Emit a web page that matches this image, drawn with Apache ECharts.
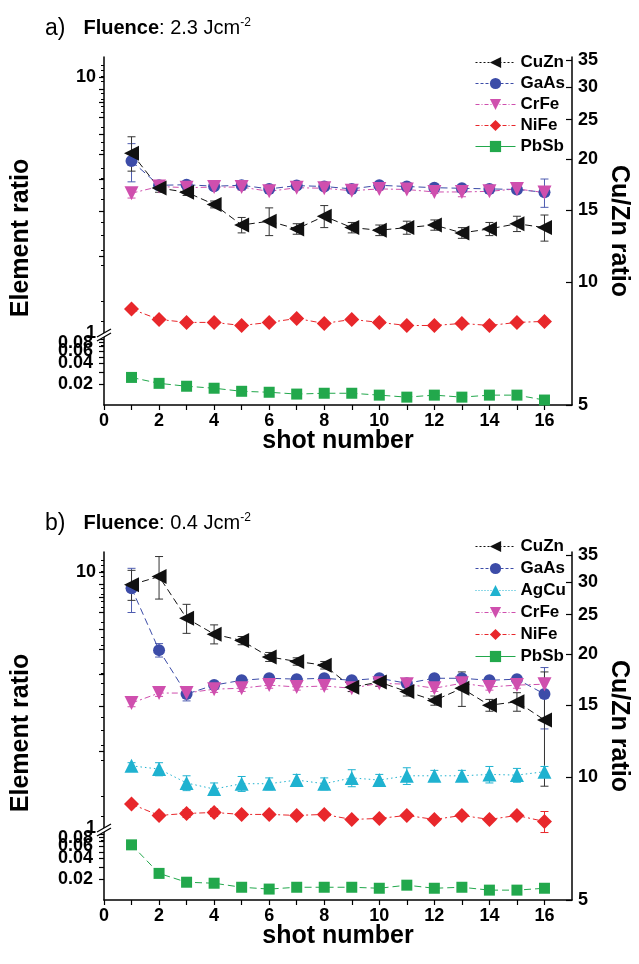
<!DOCTYPE html>
<html>
<head>
<meta charset="utf-8">
<title>Element ratio vs shot number</title>
<script src="https://cdn.jsdelivr.net/npm/echarts@6/dist/echarts.min.js"></script>
<style>
    html, body { margin: 0; padding: 0; background: #fff; }
    #chart { width: 639px; height: 964px; }
</style>
</head>
<body>
<div id="chart"></div>
<script>
// shot number (x)
const shots = [1, 2, 3, 4, 5, 6, 7, 8, 9, 10, 11, 12, 13, 14, 15, 16];

// a) Fluence 2.3 Jcm-2
const aCuZn = [20.7, 17.0, 16.6, 15.5, 13.8, 14.1, 13.5, 14.5, 13.6, 13.4, 13.6, 13.8, 13.2, 13.5, 13.9, 13.6];
const aCuZnErr = [2.0, 0.4, 0.3, 0.3, 0.6, 1.1, 0.4, 0.9, 0.4, 0.4, 0.5, 0.4, 0.4, 0.5, 0.6, 1.0];
const aGaAs = [4.7, 3.78, 3.8, 3.75, 3.78, 3.66, 3.77, 3.74, 3.66, 3.78, 3.74, 3.7, 3.68, 3.66, 3.64, 3.55];
const aGaAsErr = [0.8, 0.15, 0.06, 0.05, 0.05, 0.05, 0.05, 0.05, 0.05, 0.05, 0.05, 0.05, 0.05, 0.05, 0.08, 0.45];
const aCrFe = [3.52, 3.74, 3.7, 3.72, 3.72, 3.58, 3.7, 3.68, 3.6, 3.66, 3.64, 3.56, 3.56, 3.58, 3.66, 3.54];
const aCrFeErr = [0.15, 0.1, 0.05, 0.05, 0.1, 0.05, 0.05, 0.05, 0.05, 0.05, 0.05, 0.05, 0.15, 0.05, 0.1, 0.1];
const aNiFe = [1.24, 1.13, 1.10, 1.10, 1.07, 1.10, 1.14, 1.09, 1.13, 1.10, 1.07, 1.07, 1.09, 1.07, 1.10, 1.11];
const aPbSb = [0.0251, 0.0206, 0.0187, 0.0175, 0.0158, 0.0153, 0.0144, 0.0148, 0.0148, 0.0139, 0.0130, 0.0139, 0.0130, 0.0139, 0.0139, 0.0118];

// b) Fluence 0.4 Jcm-2
const bCuZn = [29.6, 31.0, 24.5, 22.4, 21.6, 19.7, 19.2, 18.8, 16.6, 17.1, 16.2, 15.4, 16.5, 15.0, 15.3, 13.8];
const bCuZnErr = [2.5, 3.7, 2.0, 1.2, 0.5, 0.5, 0.4, 0.4, 0.4, 0.4, 0.4, 0.4, 1.6, 0.5, 0.8, 4.3];
const bGaAs = [8.66, 4.96, 3.34, 3.62, 3.78, 3.85, 3.82, 3.85, 3.78, 3.85, 3.68, 3.85, 3.85, 3.78, 3.82, 3.34];
const bGaAsErr = [1.7, 0.3, 0.2, 0.1, 0.1, 0.1, 0.1, 0.1, 0.1, 0.1, 0.1, 0.1, 0.1, 0.1, 0.1, 0.9];
const bAgCu = [1.75, 1.70, 1.50, 1.42, 1.49, 1.49, 1.54, 1.49, 1.57, 1.54, 1.60, 1.60, 1.60, 1.62, 1.61, 1.66];
const bAgCuErr = [0.05, 0.1, 0.1, 0.08, 0.1, 0.08, 0.08, 0.08, 0.12, 0.08, 0.12, 0.08, 0.08, 0.12, 0.1, 0.08];
const bCrFe = [3.08, 3.37, 3.37, 3.49, 3.52, 3.62, 3.56, 3.59, 3.52, 3.68, 3.65, 3.52, 3.68, 3.56, 3.62, 3.65];
const bCrFeErr = [0.1, 0.1, 0.1, 0.1, 0.1, 0.1, 0.1, 0.1, 0.1, 0.1, 0.1, 0.1, 0.1, 0.1, 0.1, 0.2];
const bNiFe = [1.24, 1.12, 1.14, 1.15, 1.13, 1.13, 1.12, 1.13, 1.08, 1.09, 1.12, 1.08, 1.12, 1.08, 1.12, 1.06];
const bNiFeErr = [0, 0, 0.04, 0.04, 0, 0, 0, 0, 0, 0, 0, 0, 0, 0, 0, 0.1];
const bPbSb = [0.063, 0.0243, 0.0181, 0.0175, 0.0153, 0.0144, 0.0153, 0.0153, 0.0153, 0.0148, 0.0164, 0.0148, 0.0153, 0.0139, 0.0139, 0.0148];

// axis ticks / labels
const upperTicks = [2, 3, 4, 5, 6, 7, 8, 9, 10];
const upperLabels = [1, 10];
const lowerTicks = [0.02, 0.03, 0.04, 0.05, 0.06, 0.07, 0.08, 0.09];
// the 0.06 and 0.08 labels overlap in the original, so each gets its own axis (ECharts drops overlapping labels of one axis)
const lowerLabelGroups = [[0.02, 0.04], [0.06], [0.08]];
const cuznLabels = [5, 10, 15, 20, 25, 30, 35];
const cuznMinorTicks = [6, 7, 8, 9, 11, 12, 13, 14, 16, 17, 18, 19, 21, 22, 23, 24, 26, 27, 28, 29, 31, 32, 33, 34];
const shotLabels = [0, 2, 4, 6, 8, 10, 12, 14, 16];
const shotTicks = [0, 1, 2, 3, 4, 5, 6, 7, 8, 9, 10, 11, 12, 13, 14, 15, 16];

const FONT = '"Liberation Sans", Arial, sans-serif';
const log = v => Math.log10(v);
const pow = v => Math.pow(10, v);

// series look
const STYLE = {
    CuZn: { color: '#111111', err: '#333333', symbol: 'triangle', rotate: 90, size: 15, dash: [7, 4] },
    GaAs: { color: '#3c4ca8', err: '#4e5cb0', symbol: 'circle', rotate: 0, size: 12, dash: [7, 4] },
    AgCu: { color: '#1fb2d0', err: '#1fb2d0', symbol: 'triangle', rotate: 0, size: 14, dash: [1.5, 3] },
    CrFe: { color: '#cf4fae', err: '#cf4fae', symbol: 'triangle', rotate: 180, size: 14, dash: [6, 3, 2, 3] },
    NiFe: { color: '#e8272b', err: '#e8272b', symbol: 'diamond', rotate: 0, size: 15, dash: [6, 3, 2, 3] },
    PbSb: { color: '#22a84c', err: '#22a84c', symbol: 'rect', rotate: 0, size: 11, dash: [7, 4] }
};

const legendLine = {
    CuZn: [2, 2], GaAs: [3, 2], AgCu: [1, 2], CrFe: [4, 2, 1, 2], NiFe: [4, 2, 1, 2], PbSb: 'solid'
};

const panels = [
    {
        top: 57, label: 'a)', fluence: '2.3',
        legendTop: 49, legendGap: 4,
        names: ['CuZn', 'GaAs', 'CrFe', 'NiFe', 'PbSb'],
        upper: { GaAs: [aGaAs, aGaAsErr], CrFe: [aCrFe, aCrFeErr], NiFe: [aNiFe, null] },
        lower: { PbSb: [aPbSb, null] },
        right: { CuZn: [aCuZn, aCuZnErr] }
    },
    {
        top: 552, label: 'b)', fluence: '0.4',
        legendTop: 533, legendGap: 5,
        names: ['CuZn', 'GaAs', 'AgCu', 'CrFe', 'NiFe', 'PbSb'],
        upper: { GaAs: [bGaAs, bGaAsErr], AgCu: [bAgCu, bAgCuErr], CrFe: [bCrFe, bCrFeErr], NiFe: [bNiFe, bNiFeErr] },
        lower: { PbSb: [bPbSb, null] },
        right: { CuZn: [bCuZn, bCuZnErr] }
    }
];

const grid = [], xAxis = [], yAxis = [], series = [], legend = [], title = [];
const axisLineStyle = { show: true, onZero: false, lineStyle: { color: '#000', width: 1.5 } };
const tickText = { color: '#000', fontFamily: FONT, fontWeight: 'bold', fontSize: 18, hideOverlap: false };

function lineSeries(name, vals, xi, yi) {
    const s = STYLE[name];
    return {
        type: 'line', name: name, xAxisIndex: xi, yAxisIndex: yi, z: 4,
        data: shots.map((x, k) => [x, log(vals[k])]),
        symbol: s.symbol, symbolSize: s.size, symbolRotate: s.rotate,
        itemStyle: { color: s.color },
        lineStyle: { color: s.color, width: 1, type: s.dash },
        clip: false, animation: false, silent: true
    };
}

function errorBars(name, vals, errs, xi, yi) {
    const color = STYLE[name].err;
    const data = [];
    shots.forEach((x, k) => {
        if (errs[k] > 0) data.push([x, log(vals[k] - errs[k]), log(vals[k] + errs[k])]);
    });
    return {
        type: 'custom', name: name + ' error', xAxisIndex: xi, yAxisIndex: yi, z: 3,
        silent: true, animation: false, data: data,
        renderItem: function (params, api) {
            const lo = api.coord([api.value(0), api.value(1)]);
            const hi = api.coord([api.value(0), api.value(2)]);
            const st = { stroke: color, lineWidth: 1 };
            return {
                type: 'group', children: [
                    { type: 'line', shape: { x1: lo[0], y1: lo[1], x2: hi[0], y2: hi[1] }, style: st },
                    { type: 'line', shape: { x1: hi[0] - 4, y1: hi[1], x2: hi[0] + 4, y2: hi[1] }, style: st },
                    { type: 'line', shape: { x1: lo[0] - 4, y1: lo[1], x2: lo[0] + 4, y2: lo[1] }, style: st }
                ]
            };
        }
    };
}

const Y_PER_PANEL = 5 + lowerLabelGroups.length - 1;

panels.forEach((p, i) => {
    const gx = 3 * i, gy = Y_PER_PANEL * i;

    // upper (1..12), lower (0.01..0.1), full-height grid for the Cu/Zn axis
    grid.push({ left: 104, width: 468, top: p.top, height: 276 });
    grid.push({ left: 104, width: 468, top: p.top + 279, height: 69 });
    grid.push({ left: 104, width: 468, top: p.top, height: 348 });

    xAxis.push({ type: 'value', gridIndex: gx, min: 0, max: 17, show: false });
    xAxis.push({
        type: 'value', gridIndex: gx + 1, min: 0, max: 17,
        axisLine: axisLineStyle,
        axisTick: { show: true, length: 5, customValues: shotTicks, lineStyle: { color: '#000', width: 1.2 } },
        axisLabel: { customValues: shotLabels, margin: 7, ...tickText },
        splitLine: { show: false },
        name: 'shot number', nameLocation: 'middle', nameGap: 24, nameMoveOverlap: false,
        nameTextStyle: { color: '#000', fontFamily: FONT, fontWeight: 'bold', fontSize: 25 }
    });
    xAxis.push({ type: 'value', gridIndex: gx + 2, min: 0, max: 17, show: false });

    // gy + 0: upper left
    yAxis.push({
        type: 'value', gridIndex: gx, position: 'left', min: 0, max: log(12),
        axisLine: axisLineStyle,
        axisTick: { show: true, length: 5, customValues: upperTicks.map(log), lineStyle: { color: '#000', width: 1.2 } },
        axisLabel: { customValues: upperLabels.map(log), margin: 8, formatter: v => String(Math.round(pow(v))), ...tickText },
        splitLine: { show: false }
    });
    // gy + 1: lower left
    yAxis.push({
        type: 'value', gridIndex: gx + 1, position: 'left', min: -2, max: -1,
        axisLine: axisLineStyle,
        axisTick: { show: true, length: 5, customValues: lowerTicks.map(log), lineStyle: { color: '#000', width: 1.2 } },
        axisLabel: { customValues: lowerLabelGroups[0].map(log), margin: 11, formatter: v => pow(v).toFixed(2), ...tickText },
        splitLine: { show: false }
    });
    // gy + 2: Cu/Zn (right)
    yAxis.push({
        type: 'value', gridIndex: gx + 2, position: 'right', min: log(5), max: log(35.6),
        axisLine: axisLineStyle,
        axisTick: { show: true, inside: true, length: 6, customValues: cuznLabels.map(log), lineStyle: { color: '#000', width: 1.2 } },
        axisLabel: { customValues: cuznLabels.map(log), margin: 6, formatter: v => String(Math.round(pow(v))), ...tickText },
        splitLine: { show: false },
        name: 'Cu/Zn ratio', nameLocation: 'middle', nameRotate: -90, nameGap: 34, nameMoveOverlap: false,
        nameTextStyle: { color: '#000', fontFamily: FONT, fontWeight: 'bold', fontSize: 25 }
    });
    // gy + 3: Cu/Zn minor ticks
    yAxis.push({
        type: 'value', gridIndex: gx + 2, position: 'right', min: log(5), max: log(35.6),
        axisLine: { show: false },
        axisTick: { show: true, inside: true, length: 3, customValues: cuznMinorTicks.map(log), lineStyle: { color: '#000', width: 1 } },
        axisLabel: { show: false },
        splitLine: { show: false }
    });
    // gy + 4: left axis title over full height
    yAxis.push({
        type: 'value', gridIndex: gx + 2, position: 'left', min: 0, max: 1,
        axisLine: { show: false }, axisTick: { show: false }, axisLabel: { show: false }, splitLine: { show: false },
        name: 'Element ratio', nameLocation: 'middle', nameGap: 70, nameMoveOverlap: false,
        nameTextStyle: { color: '#000', fontFamily: FONT, fontWeight: 'bold', fontSize: 25, padding: [0, 14, 0, 0] }
    });
    // extra label-only axes for the crowded lower labels
    lowerLabelGroups.slice(1).forEach(group => {
        yAxis.push({
            type: 'value', gridIndex: gx + 1, position: 'left', min: -2, max: -1,
            axisLine: { show: false }, axisTick: { show: false }, splitLine: { show: false },
            axisLabel: { customValues: group.map(log), margin: 11, formatter: v => pow(v).toFixed(2), ...tickText }
        });
    });

    Object.keys(p.upper).forEach(n => {
        const [vals, errs] = p.upper[n];
        if (errs) series.push(errorBars(n, vals, errs, gx, gy));
        series.push(lineSeries(n, vals, gx, gy));
    });
    Object.keys(p.lower).forEach(n => {
        const [vals, errs] = p.lower[n];
        if (errs) series.push(errorBars(n, vals, errs, gx + 1, gy + 1));
        series.push(lineSeries(n, vals, gx + 1, gy + 1));
    });
    Object.keys(p.right).forEach(n => {
        const [vals, errs] = p.right[n];
        if (errs) series.push(errorBars(n, vals, errs, gx + 2, gy + 2));
        series.push(lineSeries(n, vals, gx + 2, gy + 2));
    });

    // axis break mark at value 1 of the upper axis
    series.push({
        type: 'custom', name: 'break', xAxisIndex: gx, yAxisIndex: gy, z: 6, silent: true, animation: false,
        data: [[0, 0]],
        renderItem: function (params, api) {
            const c = api.coord([api.value(0), api.value(1)]);
            const st = { stroke: '#000', lineWidth: 1.3 };
            return {
                type: 'group', children: [
                    { type: 'polygon', shape: { points: [[c[0] - 7, c[1] + 4], [c[0] + 7, c[1] - 4], [c[0] + 7, c[1] + 0], [c[0] - 7, c[1] + 8]] }, style: { fill: '#fff' } },
                    { type: 'line', shape: { x1: c[0] - 7, y1: c[1] + 4, x2: c[0] + 7, y2: c[1] - 4 }, style: st },
                    { type: 'line', shape: { x1: c[0] - 7, y1: c[1] + 8, x2: c[0] + 7, y2: c[1] }, style: st }
                ]
            };
        }
    });

    legend.push({
        orient: 'vertical', left: 470, top: p.legendTop,
        itemWidth: 40, itemHeight: 14, itemGap: p.legendGap, selectedMode: false,
        data: p.names.map(n => ({ name: n, lineStyle: { type: legendLine[n], width: 1 } })),
        textStyle: { color: '#000', fontFamily: FONT, fontWeight: 'bold', fontSize: 17 }
    });

    title.push({
        left: 45, top: p.top - 40, padding: 0,
        text: '{p|' + p.label + '}{b|Fluence}{n|: ' + p.fluence + ' Jcm}{s|-2}',
        textStyle: {
            fontFamily: FONT, color: '#000', fontWeight: 'normal',
            rich: {
                p: { fontFamily: FONT, fontSize: 23, fontWeight: 'normal', color: '#000', padding: [0, 18, 0, 0] },
                b: { fontFamily: FONT, fontSize: 20, fontWeight: 'bold', color: '#000' },
                n: { fontFamily: FONT, fontSize: 20, fontWeight: 'normal', color: '#000' },
                s: { fontFamily: FONT, fontSize: 12, fontWeight: 'normal', color: '#000', verticalAlign: 'top' }
            }
        }
    });
});

const chart = echarts.init(document.getElementById('chart'));
chart.setOption({
    backgroundColor: '#ffffff',
    animation: false,
    title: title,
    legend: legend,
    grid: grid,
    xAxis: xAxis,
    yAxis: yAxis,
    series: series
});
</script>
</body>
</html>
